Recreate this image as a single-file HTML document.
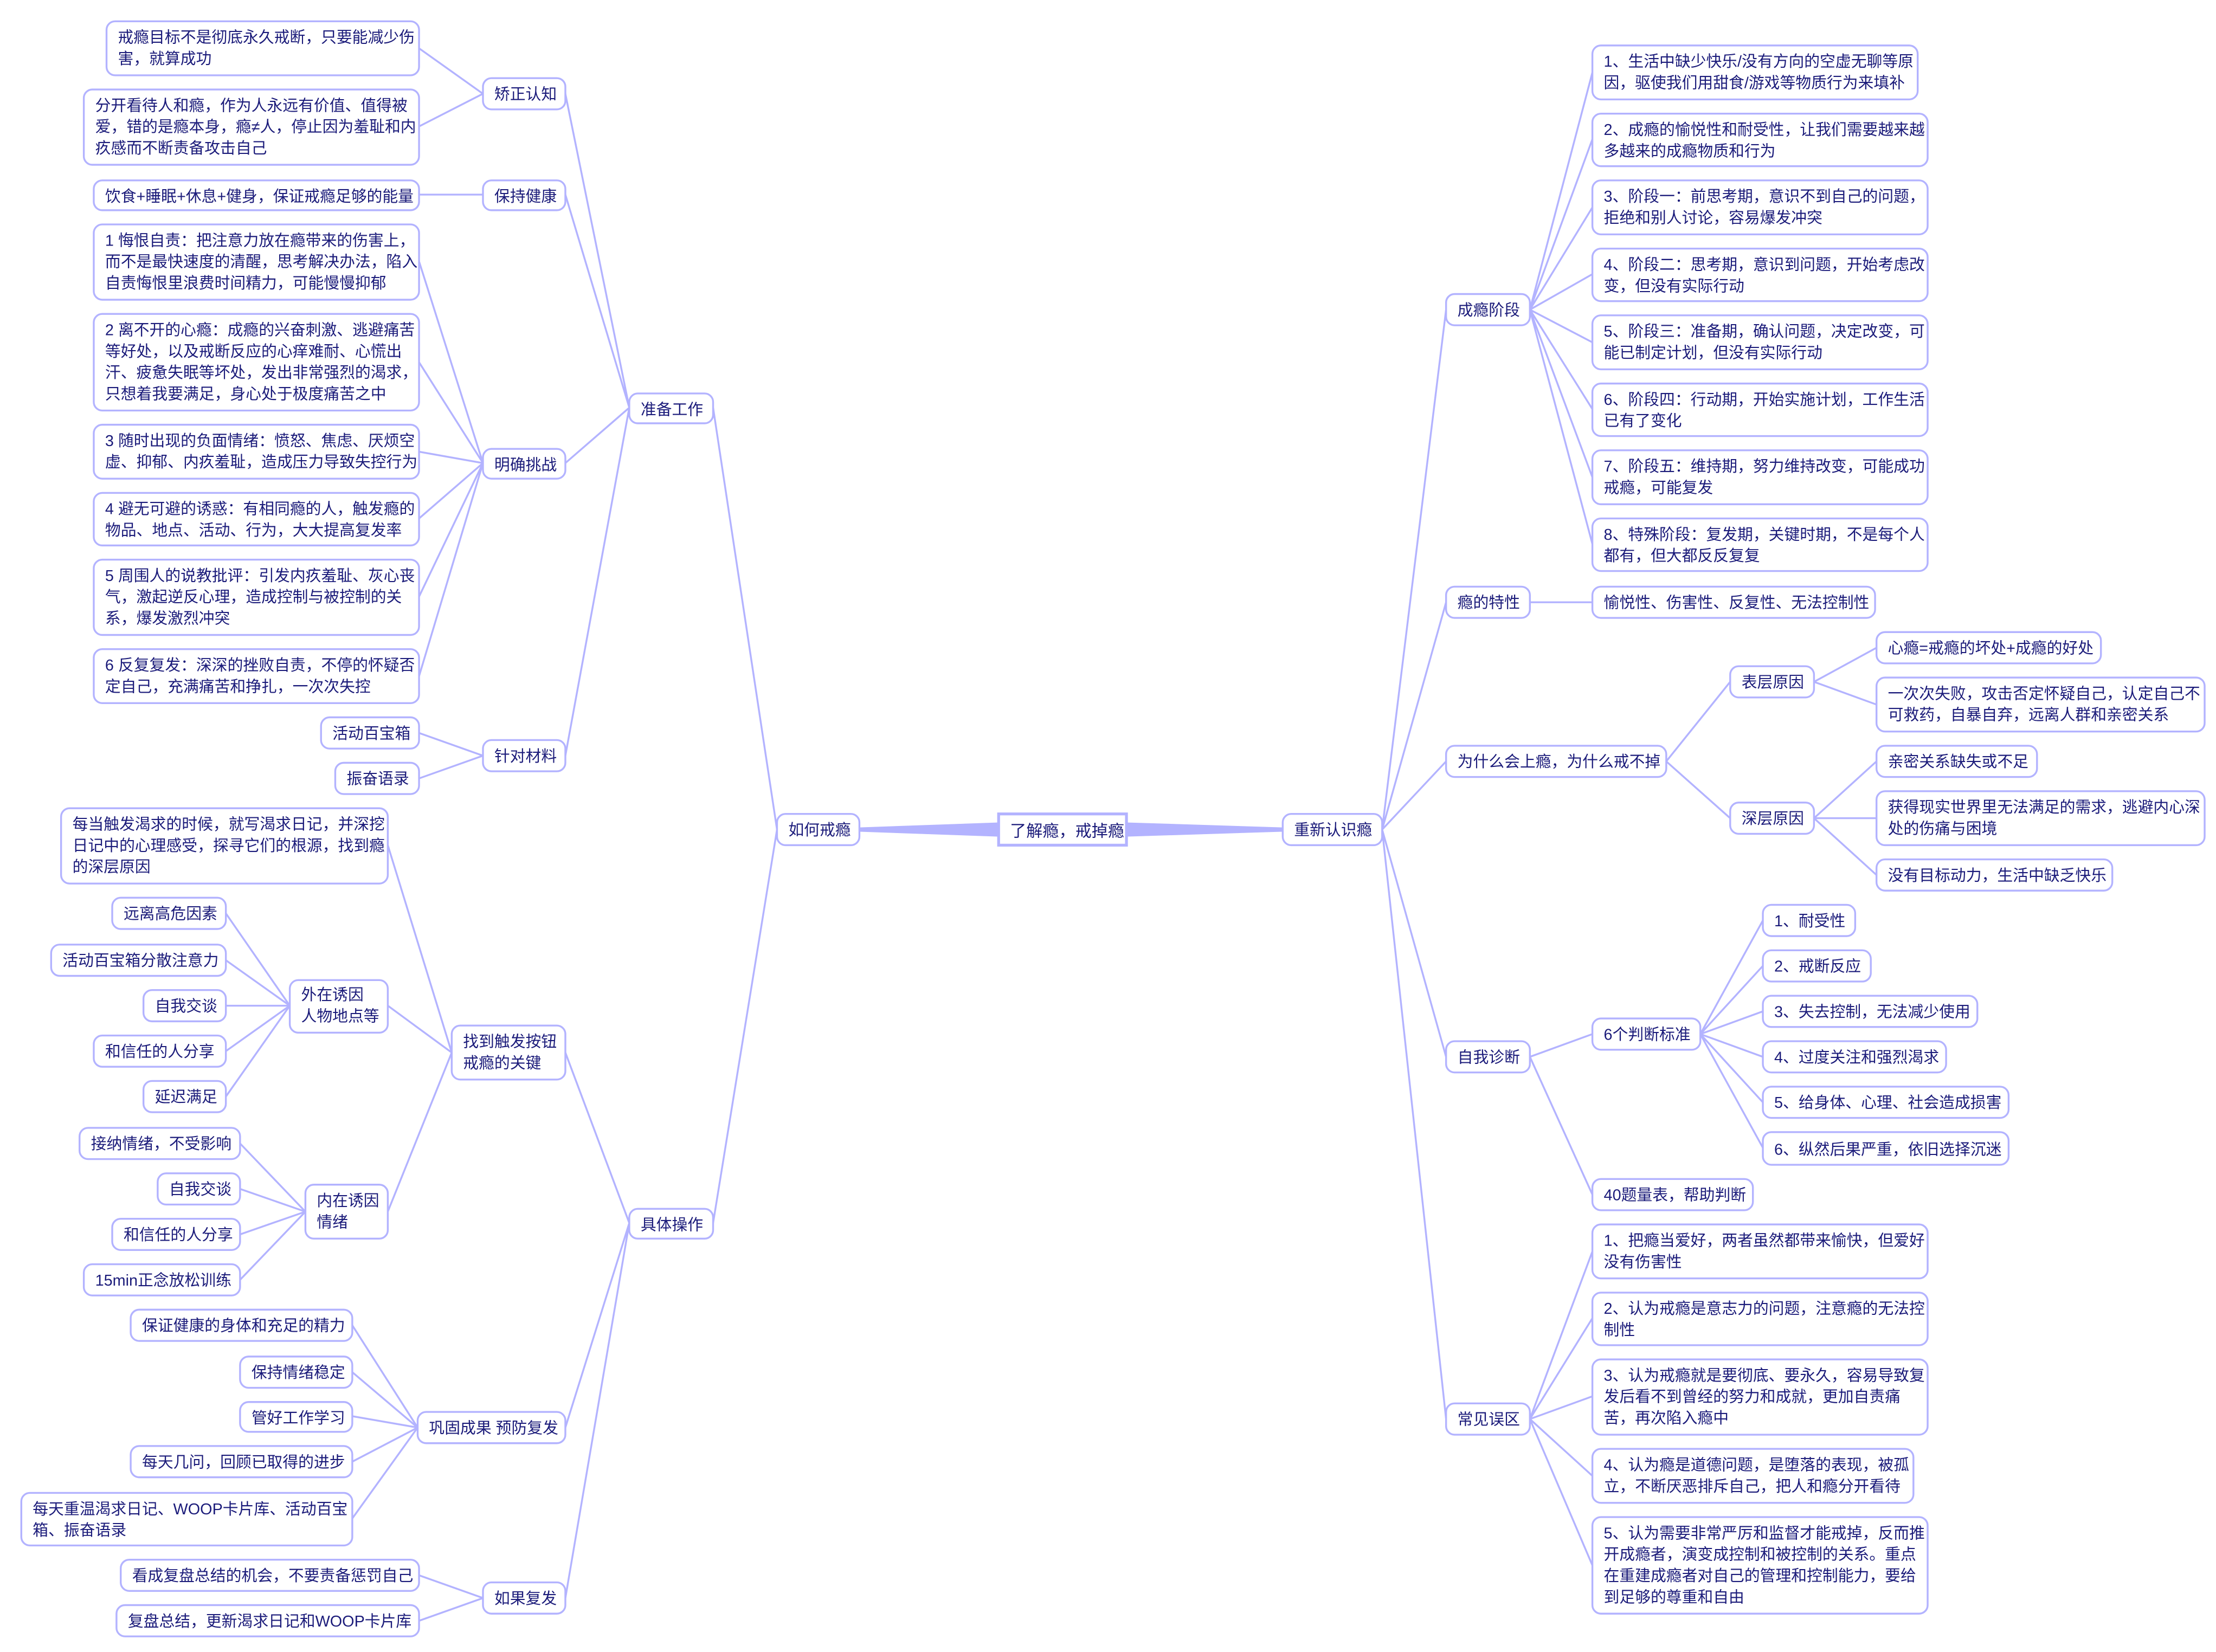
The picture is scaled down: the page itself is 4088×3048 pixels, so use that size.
<!DOCTYPE html>
<html><head><meta charset="utf-8"><style>
html,body{margin:0;padding:0;background:#fff;}
svg{display:block;}
text{font-family:"Liberation Sans","Noto Sans CJK SC",sans-serif;font-size:11px;fill:#1b1b7a;}
.b{fill:#fff;stroke:#b3b3ff;stroke-width:1.3;}
.l{fill:none;stroke:#b3b3ff;stroke-width:1.3;}
</style></head><body>
<svg width="4088" height="3048" viewBox="0 0 1560 1163" preserveAspectRatio="none" xmlns="http://www.w3.org/2000/svg">
<g class="l">
<path d="M547 584L502 287M547 584L502 861"/>
<path d="M443 287L398 66M443 287L398 137M443 287L398 326M443 287L398 532"/>
<path d="M340 66L295 34M340 66L295 89M340 137L295 137"/>
<path d="M340 326L295 184M340 326L295 255M340 326L295 318M340 326L295 365M340 326L295 420M340 326L295 476"/>
<path d="M340 532L295 516M340 532L295 548"/>
<path d="M443 861L398 741M443 861L398 1005M443 861L398 1125"/>
<path d="M318 741L273 595M318 741L273 708M318 741L273 853"/>
<path d="M204 708L159 643M204 708L159 676M204 708L159 708M204 708L159 740M204 708L159 772"/>
<path d="M215 853L169 805M215 853L169 837M215 853L169 869M215 853L169 901"/>
<path d="M294 1005L248 933M294 1005L248 966M294 1005L248 997M294 1005L248 1029M294 1005L248 1069"/>
<path d="M340 1125L295 1109M340 1125L295 1141"/>
<path d="M973 584L1018 218M973 584L1018 424M973 584L1018 536M973 584L1018 744M973 584L1018 999"/>
<path d="M1077 218L1121 51M1077 218L1121 98M1077 218L1121 146M1077 218L1121 193M1077 218L1121 241M1077 218L1121 288M1077 218L1121 336M1077 218L1121 383"/>
<path d="M1077 424L1121 424M1173 536L1218 480M1173 536L1218 576"/>
<path d="M1277 480L1321 456M1277 480L1321 496M1277 576L1321 536M1277 576L1321 576M1277 576L1321 616"/>
<path d="M1077 744L1121 728M1077 744L1121 841"/>
<path d="M1197 728L1241 648M1197 728L1241 680M1197 728L1241 712M1197 728L1241 744M1197 728L1241 776M1197 728L1241 808"/>
<path d="M1077 999L1121 881M1077 999L1121 928M1077 999L1121 983M1077 999L1121 1039M1077 999L1121 1102"/>
</g>
<polygon points="605,582.5 703,579 703,589 605,585.5" fill="#b3b3ff"/>
<polygon points="793,579 903,582.5 903,585.5 793,589" fill="#b3b3ff"/>

<rect x="703" y="573" width="90" height="22" fill="#fff" stroke="#b3b3ff" stroke-width="2"/>
<text x="711" y="589" style="font-size:11.5px">了解瘾，戒掉瘾</text>

<!-- left -->
<rect class="b" x="547" y="573" width="58" height="22" rx="6"/><text x="555" y="588">如何戒瘾</text>
<rect class="b" x="443" y="277" width="59" height="21" rx="6"/><text x="451" y="292">准备工作</text>
<rect class="b" x="443" y="851" width="59" height="21" rx="6"/><text x="451" y="866">具体操作</text>

<rect class="b" x="340" y="55" width="58" height="22" rx="6"/><text x="348" y="70">矫正认知</text>
<rect class="b" x="75" y="15" width="220" height="38" rx="6"/><text x="83" y="30">戒瘾目标不是彻底永久戒断，只要能减少伤</text><text x="83" y="45">害，就算成功</text>
<rect class="b" x="59" y="63" width="236" height="53" rx="6"/><text x="67" y="78">分开看待人和瘾，作为人永远有价值、值得被</text><text x="67" y="93">爱，错的是瘾本身，瘾≠人，停止因为羞耻和内</text><text x="67" y="108">疚感而不断责备攻击自己</text>
<rect class="b" x="340" y="127" width="58" height="21" rx="6"/><text x="348" y="142">保持健康</text>
<rect class="b" x="66" y="127" width="229" height="21" rx="6"/><text x="74" y="142">饮食+睡眠+休息+健身，保证戒瘾足够的能量</text>

<rect class="b" x="340" y="316" width="58" height="21" rx="6"/><text x="348" y="331">明确挑战</text>
<rect class="b" x="66" y="158" width="229" height="53" rx="6"/><text x="74" y="173">1 悔恨自责：把注意力放在瘾带来的伤害上，</text><text x="74" y="188">而不是最快速度的清醒，思考解决办法，陷入</text><text x="74" y="203">自责悔恨里浪费时间精力，可能慢慢抑郁</text>
<rect class="b" x="66" y="221" width="229" height="68" rx="6"/><text x="74" y="236">2 离不开的心瘾：成瘾的兴奋刺激、逃避痛苦</text><text x="74" y="251">等好处，以及戒断反应的心痒难耐、心慌出</text><text x="74" y="266">汗、疲惫失眠等坏处，发出非常强烈的渴求，</text><text x="74" y="281">只想着我要满足，身心处于极度痛苦之中</text>
<rect class="b" x="66" y="299" width="229" height="38" rx="6"/><text x="74" y="314">3 随时出现的负面情绪：愤怒、焦虑、厌烦空</text><text x="74" y="329">虚、抑郁、内疚羞耻，造成压力导致失控行为</text>
<rect class="b" x="66" y="347" width="229" height="37" rx="6"/><text x="74" y="362">4 避无可避的诱惑：有相同瘾的人，触发瘾的</text><text x="74" y="377">物品、地点、活动、行为，大大提高复发率</text>
<rect class="b" x="66" y="394" width="229" height="53" rx="6"/><text x="74" y="409">5 周围人的说教批评：引发内疚羞耻、灰心丧</text><text x="74" y="424">气，激起逆反心理，造成控制与被控制的关</text><text x="74" y="439">系，爆发激烈冲突</text>
<rect class="b" x="66" y="457" width="229" height="38" rx="6"/><text x="74" y="472">6 反复复发：深深的挫败自责，不停的怀疑否</text><text x="74" y="487">定自己，充满痛苦和挣扎，一次次失控</text>

<rect class="b" x="340" y="521" width="58" height="22" rx="6"/><text x="348" y="536">针对材料</text>
<rect class="b" x="226" y="505" width="69" height="22" rx="6"/><text x="234" y="520">活动百宝箱</text>
<rect class="b" x="236" y="537" width="59" height="22" rx="6"/><text x="244" y="552">振奋语录</text>

<rect class="b" x="318" y="722" width="80" height="38" rx="6"/><text x="326" y="737">找到触发按钮</text><text x="326" y="752">戒瘾的关键</text>
<rect class="b" x="43" y="569" width="230" height="53" rx="6"/><text x="51" y="584">每当触发渴求的时候，就写渴求日记，并深挖</text><text x="51" y="599">日记中的心理感受，探寻它们的根源，找到瘾</text><text x="51" y="614">的深层原因</text>
<rect class="b" x="204" y="690" width="69" height="37" rx="6"/><text x="212" y="704">外在诱因</text><text x="212" y="719">人物地点等</text>
<rect class="b" x="79" y="632" width="80" height="22" rx="6"/><text x="87" y="647">远离高危因素</text>
<rect class="b" x="36" y="665" width="123" height="22" rx="6"/><text x="44" y="680">活动百宝箱分散注意力</text>
<rect class="b" x="101" y="697" width="58" height="22" rx="6"/><text x="109" y="712">自我交谈</text>
<rect class="b" x="66" y="729" width="93" height="22" rx="6"/><text x="74" y="744">和信任的人分享</text>
<rect class="b" x="101" y="761" width="58" height="22" rx="6"/><text x="109" y="776">延迟满足</text>
<rect class="b" x="215" y="834" width="58" height="38" rx="6"/><text x="223" y="849">内在诱因</text><text x="223" y="864">情绪</text>
<rect class="b" x="56" y="794" width="113" height="22" rx="6"/><text x="64" y="809">接纳情绪，不受影响</text>
<rect class="b" x="111" y="826" width="58" height="22" rx="6"/><text x="119" y="841">自我交谈</text>
<rect class="b" x="79" y="858" width="90" height="22" rx="6"/><text x="87" y="873">和信任的人分享</text>
<rect class="b" x="59" y="890" width="110" height="22" rx="6"/><text x="67" y="905">15min正念放松训练</text>

<rect class="b" x="294" y="994" width="104" height="22" rx="6"/><text x="302" y="1009">巩固成果 预防复发</text>
<rect class="b" x="92" y="922" width="156" height="22" rx="6"/><text x="100" y="937">保证健康的身体和充足的精力</text>
<rect class="b" x="169" y="955" width="79" height="22" rx="6"/><text x="177" y="970">保持情绪稳定</text>
<rect class="b" x="169" y="987" width="79" height="21" rx="6"/><text x="177" y="1002">管好工作学习</text>
<rect class="b" x="92" y="1018" width="156" height="22" rx="6"/><text x="100" y="1033">每天几问，回顾已取得的进步</text>
<rect class="b" x="15" y="1051" width="233" height="37" rx="6"/><text x="23" y="1066">每天重温渴求日记、WOOP卡片库、活动百宝</text><text x="23" y="1081">箱、振奋语录</text>
<rect class="b" x="340" y="1114" width="58" height="22" rx="6"/><text x="348" y="1129">如果复发</text>
<rect class="b" x="85" y="1098" width="210" height="22" rx="6"/><text x="93" y="1113">看成复盘总结的机会，不要责备惩罚自己</text>
<rect class="b" x="82" y="1130" width="213" height="22" rx="6"/><text x="90" y="1145">复盘总结，更新渴求日记和WOOP卡片库</text>

<!-- right -->
<rect class="b" x="903" y="573" width="70" height="22" rx="6"/><text x="911" y="588">重新认识瘾</text>
<rect class="b" x="1018" y="207" width="59" height="22" rx="6"/><text x="1026" y="222">成瘾阶段</text>
<rect class="b" x="1121" y="32" width="229" height="38" rx="6"/><text x="1129" y="47">1、生活中缺少快乐/没有方向的空虚无聊等原</text><text x="1129" y="62">因，驱使我们用甜食/游戏等物质行为来填补</text>
<rect class="b" x="1121" y="80" width="236" height="37" rx="6"/><text x="1129" y="95">2、成瘾的愉悦性和耐受性，让我们需要越来越</text><text x="1129" y="110">多越来的成瘾物质和行为</text>
<rect class="b" x="1121" y="127" width="236" height="38" rx="6"/><text x="1129" y="142">3、阶段一：前思考期，意识不到自己的问题，</text><text x="1129" y="157">拒绝和别人讨论，容易爆发冲突</text>
<rect class="b" x="1121" y="175" width="236" height="37" rx="6"/><text x="1129" y="190">4、阶段二：思考期，意识到问题，开始考虑改</text><text x="1129" y="205">变，但没有实际行动</text>
<rect class="b" x="1121" y="222" width="236" height="38" rx="6"/><text x="1129" y="237">5、阶段三：准备期，确认问题，决定改变，可</text><text x="1129" y="252">能已制定计划，但没有实际行动</text>
<rect class="b" x="1121" y="270" width="236" height="37" rx="6"/><text x="1129" y="285">6、阶段四：行动期，开始实施计划，工作生活</text><text x="1129" y="300">已有了变化</text>
<rect class="b" x="1121" y="317" width="236" height="38" rx="6"/><text x="1129" y="332">7、阶段五：维持期，努力维持改变，可能成功</text><text x="1129" y="347">戒瘾，可能复发</text>
<rect class="b" x="1121" y="365" width="236" height="37" rx="6"/><text x="1129" y="380">8、特殊阶段：复发期，关键时期，不是每个人</text><text x="1129" y="395">都有，但大都反反复复</text>

<rect class="b" x="1018" y="413" width="59" height="22" rx="6"/><text x="1026" y="428">瘾的特性</text>
<rect class="b" x="1121" y="413" width="199" height="22" rx="6"/><text x="1129" y="428">愉悦性、伤害性、反复性、无法控制性</text>

<rect class="b" x="1018" y="525" width="155" height="22" rx="6"/><text x="1026" y="540">为什么会上瘾，为什么戒不掉</text>
<rect class="b" x="1218" y="469" width="59" height="22" rx="6"/><text x="1226" y="484">表层原因</text>
<rect class="b" x="1321" y="445" width="158" height="22" rx="6"/><text x="1329" y="460">心瘾=戒瘾的坏处+成瘾的好处</text>
<rect class="b" x="1321" y="477" width="231" height="38" rx="6"/><text x="1329" y="492">一次次失败，攻击否定怀疑自己，认定自己不</text><text x="1329" y="507">可救药，自暴自弃，远离人群和亲密关系</text>
<rect class="b" x="1218" y="565" width="59" height="22" rx="6"/><text x="1226" y="580">深层原因</text>
<rect class="b" x="1321" y="525" width="113" height="22" rx="6"/><text x="1329" y="540">亲密关系缺失或不足</text>
<rect class="b" x="1321" y="557" width="231" height="38" rx="6"/><text x="1329" y="572">获得现实世界里无法满足的需求，逃避内心深</text><text x="1329" y="587">处的伤痛与困境</text>
<rect class="b" x="1321" y="605" width="166" height="22" rx="6"/><text x="1329" y="620">没有目标动力，生活中缺乏快乐</text>

<rect class="b" x="1018" y="733" width="59" height="22" rx="6"/><text x="1026" y="748">自我诊断</text>
<rect class="b" x="1121" y="717" width="76" height="22" rx="6"/><text x="1129" y="732">6个判断标准</text>
<rect class="b" x="1241" y="637" width="65" height="22" rx="6"/><text x="1249" y="652">1、耐受性</text>
<rect class="b" x="1241" y="669" width="76" height="22" rx="6"/><text x="1249" y="684">2、戒断反应</text>
<rect class="b" x="1241" y="701" width="151" height="22" rx="6"/><text x="1249" y="716">3、失去控制，无法减少使用</text>
<rect class="b" x="1241" y="733" width="129" height="22" rx="6"/><text x="1249" y="748">4、过度关注和强烈渴求</text>
<rect class="b" x="1241" y="765" width="173" height="22" rx="6"/><text x="1249" y="780">5、给身体、心理、社会造成损害</text>
<rect class="b" x="1241" y="797" width="173" height="23" rx="6"/><text x="1249" y="813">6、纵然后果严重，依旧选择沉迷</text>
<rect class="b" x="1121" y="830" width="113" height="22" rx="6"/><text x="1129" y="845">40题量表，帮助判断</text>

<rect class="b" x="1018" y="988" width="59" height="22" rx="6"/><text x="1026" y="1003">常见误区</text>
<rect class="b" x="1121" y="862" width="236" height="38" rx="6"/><text x="1129" y="877">1、把瘾当爱好，两者虽然都带来愉快，但爱好</text><text x="1129" y="892">没有伤害性</text>
<rect class="b" x="1121" y="910" width="236" height="37" rx="6"/><text x="1129" y="925">2、认为戒瘾是意志力的问题，注意瘾的无法控</text><text x="1129" y="940">制性</text>
<rect class="b" x="1121" y="957" width="236" height="53" rx="6"/><text x="1129" y="972">3、认为戒瘾就是要彻底、要永久，容易导致复</text><text x="1129" y="987">发后看不到曾经的努力和成就，更加自责痛</text><text x="1129" y="1002">苦，再次陷入瘾中</text>
<rect class="b" x="1121" y="1020" width="226" height="38" rx="6"/><text x="1129" y="1035">4、认为瘾是道德问题，是堕落的表现，被孤</text><text x="1129" y="1050">立，不断厌恶排斥自己，把人和瘾分开看待</text>
<rect class="b" x="1121" y="1068" width="236" height="68" rx="6"/><text x="1129" y="1083">5、认为需要非常严厉和监督才能戒掉，反而推</text><text x="1129" y="1098">开成瘾者，演变成控制和被控制的关系。重点</text><text x="1129" y="1113">在重建成瘾者对自己的管理和控制能力，要给</text><text x="1129" y="1128">到足够的尊重和自由</text>
</svg>
</body></html>
